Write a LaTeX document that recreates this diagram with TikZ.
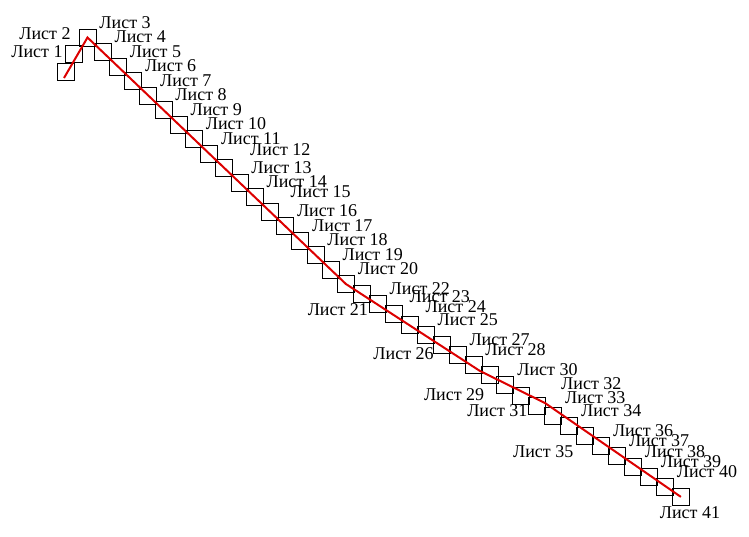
\documentclass[tikz,border=0pt]{standalone}
\usepackage{fontspec}
\setmainfont{Liberation Serif}
\definecolor{trackred}{RGB}{220,0,0}

\begin{document}
\begin{tikzpicture}[x=0.75pt, y=-0.75pt,
  sheet/.style={draw, line width=0.75pt, minimum width=12.75pt, minimum height=12.75pt, inner sep=0pt},
  lbl/.style={inner xsep=2pt, inner ysep=0pt, font=\fontsize{13.5}{15}\selectfont},
  track/.style={trackred, line width=1.5pt}]
\useasboundingbox (0,0) rectangle (749,536);
% sheets
\node[sheet] (s1) at (65.5,71.5) {};
\node[sheet] (s2) at (73.5,53.5) {};
\node[sheet] (s3) at (87.5,37.5) {};
\node[sheet] (s4) at (102.7,52) {};
\node[sheet] (s5) at (117.9,66.5) {};
\node[sheet] (s6) at (133.1,81) {};
\node[sheet] (s7) at (148.3,95.5) {};
\node[sheet] (s8) at (163.5,110) {};
\node[sheet] (s9) at (178.7,124.5) {};
\node[sheet] (s10) at (193.9,139) {};
\node[sheet] (s11) at (209.1,153.5) {};
\node[sheet] (s12) at (224.3,168) {};
\node[sheet] (s13) at (239.5,182.5) {};
\node[sheet] (s14) at (254.7,197) {};
\node[sheet] (s15) at (269.9,211.5) {};
\node[sheet] (s16) at (285.1,226) {};
\node[sheet] (s17) at (300.3,240.5) {};
\node[sheet] (s18) at (315.5,255) {};
\node[sheet] (s19) at (330.7,269.5) {};
\node[sheet] (s20) at (345.9,284) {};
\node[sheet] (s21) at (361.9,294.1) {};
\node[sheet] (s22) at (377.8,304.3) {};
\node[sheet] (s23) at (393.8,314.4) {};
\node[sheet] (s24) at (409.7,324.6) {};
\node[sheet] (s25) at (425.7,334.7) {};
\node[sheet] (s26) at (441.6,344.8) {};
\node[sheet] (s27) at (457.6,355) {};
\node[sheet] (s28) at (473.5,365.1) {};
\node[sheet] (s29) at (489.5,375.3) {};
\node[sheet] (s30) at (505.4,385.4) {};
\node[sheet] (s31) at (521.4,395.5) {};
\node[sheet] (s32) at (537.3,405.7) {};
\node[sheet] (s33) at (553.3,415.8) {};
\node[sheet] (s34) at (569.2,426) {};
\node[sheet] (s35) at (585.2,436.1) {};
\node[sheet] (s36) at (601.1,446.2) {};
\node[sheet] (s37) at (617.1,456.4) {};
\node[sheet] (s38) at (633,466.5) {};
\node[sheet] (s39) at (649,476.7) {};
\node[sheet] (s40) at (664.9,486.8) {};
\node[sheet] (s41) at (680.9,496.9) {};
% track
\coordinate (start) at (64,78);
\coordinate (bend1) at (480,371);
\coordinate (bend2) at (545,403);
\draw[track] (start) -- (s3.center) -- (s20.center) -- (bend1) -- (bend2) -- (s41.center);
% labels
\node[lbl, anchor=south east, yshift=3.75pt] (l1) at (s1.north) {Лист 1};
\node[lbl, anchor=south east, yshift=3.75pt] (l2) at (s2.north) {Лист 2};
\node[lbl, anchor=south west] (l3) at (s3.north east) {Лист 3};
\node[lbl, anchor=south west] (l4) at (s4.north east) {Лист 4};
\node[lbl, anchor=south west] (l5) at (s5.north east) {Лист 5};
\node[lbl, anchor=south west] (l6) at (s6.north east) {Лист 6};
\node[lbl, anchor=south west] (l7) at (s7.north east) {Лист 7};
\node[lbl, anchor=south west] (l8) at (s8.north east) {Лист 8};
\node[lbl, anchor=south west] (l9) at (s9.north east) {Лист 9};
\node[lbl, anchor=south west] (l10) at (s10.north east) {Лист 10};
\node[lbl, anchor=south west] (l11) at (s11.north east) {Лист 11};
\node[lbl, anchor=south west, xshift=10.5pt, yshift=2.5pt] (l12) at (s12.north east) {Лист 12};
\node[lbl, anchor=south west] (l13) at (s13.north east) {Лист 13};
\node[lbl, anchor=south west] (l14) at (s14.north east) {Лист 14};
\node[lbl, anchor=south west, xshift=6.5pt, yshift=3.5pt] (l15) at (s15.north east) {Лист 15};
\node[lbl, anchor=south west] (l16) at (s16.north east) {Лист 16};
\node[lbl, anchor=south west] (l17) at (s17.north east) {Лист 17};
\node[lbl, anchor=south west] (l18) at (s18.north east) {Лист 18};
\node[lbl, anchor=south west] (l19) at (s19.north east) {Лист 19};
\node[lbl, anchor=south west] (l20) at (s20.north east) {Лист 20};
\node[lbl, anchor=north east] (l21) at (s21.south east) {Лист 21};
\node[lbl, anchor=south west] (l22) at (s22.north east) {Лист 22};
\node[lbl, anchor=south west, xshift=3pt, yshift=2pt] (l23) at (s23.north east) {Лист 23};
\node[lbl, anchor=south west, xshift=3pt, yshift=2pt] (l24) at (s24.north east) {Лист 24};
\node[lbl, anchor=south west] (l25) at (s25.north east) {Лист 25};
\node[lbl, anchor=east, xshift=3pt] (l26) at (s26.south west) {Лист 26};
\node[lbl, anchor=south west] (l27) at (s27.north east) {Лист 27};
\node[lbl, anchor=south west] (l28) at (s28.north east) {Лист 28};
\node[lbl, anchor=north east, xshift=5pt, yshift=-3pt] (l29) at (s29.south west) {Лист 29};
\node[lbl, anchor=south west] (l30) at (s30.north east) {Лист 30};
\node[lbl, anchor=north east] (l31) at (s31.south east) {Лист 31};
\node[lbl, anchor=south west, xshift=9pt, yshift=5pt] (l32) at (s32.north east) {Лист 32};
\node[lbl, anchor=south west, yshift=2pt] (l33) at (s33.north east) {Лист 33};
\node[lbl, anchor=south west] (l34) at (s34.north east) {Лист 34};
\node[lbl, anchor=north east] (l35) at (s35.south west) {Лист 35};
\node[lbl, anchor=south west] (l36) at (s36.north east) {Лист 36};
\node[lbl, anchor=south west] (l37) at (s37.north east) {Лист 37};
\node[lbl, anchor=south west] (l38) at (s38.north east) {Лист 38};
\node[lbl, anchor=south west] (l39) at (s39.north east) {Лист 39};
\node[lbl, anchor=south west] (l40) at (s40.north east) {Лист 40};
\node[lbl, anchor=north] (l41) at (s41.south east) {Лист 41};
\end{tikzpicture}
\end{document}
